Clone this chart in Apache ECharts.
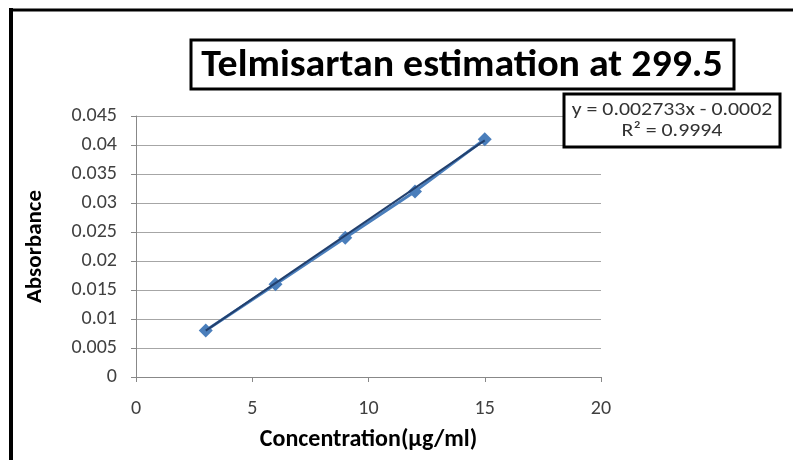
<!DOCTYPE html>
<html>
<head>
<meta charset="utf-8">
<title>Telmisartan estimation</title>
<script src="https://cdn.jsdelivr.net/npm/echarts@6/dist/echarts.min.js"></script>
<style>
  html, body { margin: 0; padding: 0; background: #fff; }
  #main { width: 793px; height: 460px; }
</style>
</head>
<body>
<div id="main"></div>
<script>
// data
var concentration = [3, 6, 9, 12, 15];
var absorbance = [0.008, 0.016, 0.024, 0.032, 0.041];

// linear trendline as printed on the chart
var slope = 0.002733;
var intercept = -0.0002;
var trendX = [3, 15];
var equationText = 'y = 0.002733x - 0.0002';
var r2Text = 'R² = 0.9994';

var chart = echarts.init(document.getElementById('main'));

var points = concentration.map(function (x, i) { return [x, absorbance[i]]; });
var trendPoints = trendX.map(function (x) { return [x, slope * x + intercept]; });

var font = 'Calibri, Carlito, "Open Sans", sans-serif';

var option = {
  animation: false,
  backgroundColor: '#fff',
  grid: { left: 136, right: 192, top: 116, bottom: 83 },
  xAxis: {
    type: 'value',
    min: 0, max: 20, interval: 5,
    name: 'Concentration(µg/ml)',
    nameLocation: 'middle',
    nameGap: 51,
    nameTextStyle: { fontFamily: font, fontWeight: 'bold', fontSize: 24, color: '#000' },
    axisLine: { show: true, lineStyle: { color: '#888', width: 1 } },
    axisTick: { show: true, length: 5, lineStyle: { color: '#888' } },
    axisLabel: { margin: 22, fontFamily: font, fontSize: 20, color: '#404040' },
    splitLine: { show: false }
  },
  yAxis: {
    type: 'value',
    min: 0, max: 0.045, interval: 0.005,
    name: 'Absorbance',
    nameLocation: 'middle',
    nameRotate: 90,
    nameGap: 89,
    nameTextStyle: { fontFamily: font, fontWeight: 'bold', fontSize: 23, color: '#000' },
    axisLine: { show: true, lineStyle: { color: '#888', width: 1 } },
    axisTick: { show: true, length: 5, lineStyle: { color: '#888' } },
    axisLabel: { margin: 19, fontFamily: font, fontSize: 20, color: '#404040' },
    splitLine: { show: true, lineStyle: { color: '#a6a6a6', width: 1 } }
  },
  series: [{
    name: 'Absorbance',
    type: 'line',
    data: points,
    symbol: 'diamond',
    symbolSize: 14,
    itemStyle: { color: '#4a7ebb' },
    lineStyle: { color: '#4a7ebb', width: 3 },
    z: 2
  }, {
    name: 'Linear trend',
    type: 'line',
    data: trendPoints,
    showSymbol: false,
    symbol: 'none',
    lineStyle: { color: '#22406e', width: 2 },
    z: 3
  }],
  graphic: [
    // outer frame (left and top edges only visible)
    { type: 'line', shape: { x1: 11, y1: 8, x2: 11, y2: 460 }, style: { stroke: '#000', lineWidth: 4 } },
    { type: 'line', shape: { x1: 9, y1: 10, x2: 793, y2: 10 }, style: { stroke: '#000', lineWidth: 3 } },
    // title box
    { type: 'rect', shape: { x: 191, y: 40, width: 543, height: 49 }, style: { fill: '#fff', stroke: '#000', lineWidth: 3 }, z: 10 },
    { type: 'text', x: 462, y: 66, scaleX: 1.05, z: 11,
      style: { text: 'Telmisartan estimation at 299.5', fontFamily: font, fontWeight: 'bold', fontSize: 38, fill: '#000', align: 'center', verticalAlign: 'middle' } },
    // trendline equation box
    { type: 'rect', shape: { x: 564, y: 94, width: 216, height: 53 }, style: { fill: '#fff', stroke: '#000', lineWidth: 3 }, z: 10 },
    { type: 'text', x: 672, y: 110, scaleX: 1.15, z: 11,
      style: { text: equationText, fontFamily: font, fontSize: 19, fill: '#333', align: 'center', verticalAlign: 'middle' } },
    { type: 'text', x: 672, y: 131, scaleX: 1.15, z: 11,
      style: { text: r2Text, fontFamily: font, fontSize: 19, fill: '#333', align: 'center', verticalAlign: 'middle' } }
  ]
};

chart.setOption(option);
</script>
</body>
</html>
